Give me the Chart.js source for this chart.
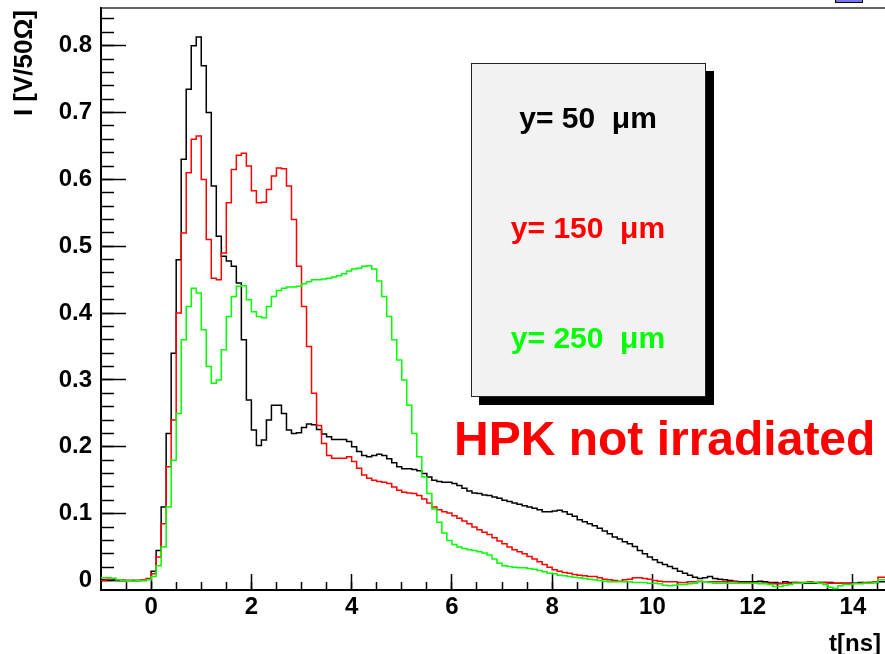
<!DOCTYPE html>
<html><head><meta charset="utf-8">
<script src="https://cdn.jsdelivr.net/npm/chart.js@4.4.1/dist/chart.umd.min.js"></script>
<style>html,body{margin:0;padding:0;background:#fff;overflow:hidden}canvas{display:block}</style>
</head><body>
<canvas id="c" width="885" height="654"></canvas>
<script>
// ---- data (histogram bins, 0.1 ns wide, starting at -1.0 ns) ----
const binStart = -1.0;
const binWidth = 0.1;
const seriesLabels = ['y= 50  \u03bcm', 'y= 150  \u03bcm', 'y= 250  \u03bcm'];
const seriesColors = ['#000000', '#ff0000', '#00ff00'];

const y50 = [
  .001,.001,.001,0,0,0,0,0,0,.002,
  .014,.045,.11,.22,.34,.48,.63,.735,.80,.813,
  .77,.70,.59,.515,.485,.478,.47,.445,.36,.27,
  .225,.202,.21,.24,.262,.262,.25,.225,.22,.221,
  .229,.234,.233,.226,.219,.215,.211,.211,.211,.208,
  .200,.193,.187,.185,.187,.189,.187,.182,.176,.170,
  .167,.167,.166,.164,.160,.155,.150,.148,.147,.147,
  .145,.142,.138,.134,.131,.130,.128,.127,.125,.123,
  .120,.118,.116,.114,.112,.110,.108,.106,.103,.103,
  .104,.105,.103,.099,.096,.091,.088,.085,.082,.078,
  .074,.070,.065,.062,.058,.055,.051,.045,.040,.035,
  .031,.027,.024,.021,.018,.014,.011,.008,.005,.003,
  .004,.006,.003,.002,.001,0,-.001,-.002,-.002,-.002,
  -.002,-.001,-.002,-.003,-.003,-.004,-.002,-.003,-.003,-.004,
  -.004,-.004,-.004,-.003,-.003,-.003,-.004,-.004,-.004,-.004,
  -.004,-.003,-.004,-.003,-.003,-.002,-.002,-.002
];
const y150 = [
  0,.002,.003,.001,0,0,0,0,.001,.003,
  .010,.035,.085,.17,.24,.40,.52,.61,.66,.665,
  .60,.51,.452,.45,.49,.565,.615,.636,.639,.62,
  .583,.565,.566,.585,.605,.617,.616,.59,.54,.47,
  .41,.35,.28,.232,.205,.187,.183,.183,.183,.185,
  .178,.168,.158,.153,.150,.148,.147,.145,.140,.135,
  .132,.131,.130,.127,.122,.116,.110,.106,.103,.101,
  .097,.093,.089,.085,.080,.076,.072,.069,.064,.059,
  .055,.050,.046,.043,.040,.036,.032,.028,.024,.020,
  .016,.014,.012,.011,.009,.008,.007,.006,.006,.004,
  .002,.001,0,-.001,.001,.002,.004,.004,.003,.002,
  0,-.001,-.002,-.002,-.002,-.003,-.003,-.002,-.002,-.001,
  -.002,-.002,-.002,-.002,-.002,-.002,-.002,-.003,-.003,-.003,
  -.004,-.004,-.004,-.004,-.005,-.005,-.004,-.004,-.003,-.003,
  -.003,-.002,-.003,-.003,-.003,-.004,-.004,-.004,-.004,-.004,
  -.004,-.004,-.003,-.003,-.002,.005,.005,.005
];
const y250 = [
  .004,.004,.003,.001,0,0,-.001,0,0,.001,
  .006,.022,.05,.11,.18,.25,.36,.41,.437,.43,
  .375,.32,.295,.30,.345,.395,.425,.44,.441,.42,
  .402,.395,.393,.41,.425,.434,.437,.439,.439,.440,
  .444,.447,.450,.450,.451,.452,.454,.456,.459,.463,
  .466,.467,.470,.471,.466,.448,.425,.395,.36,.33,
  .30,.262,.22,.185,.155,.13,.107,.087,.071,.060,
  .054,.050,.048,.046,.045,.043,.041,.038,.032,.026,
  .022,.021,.020,.019,.019,.018,.017,.015,.013,.011,
  .010,.008,.007,.006,.005,.004,.003,.002,.001,0,
  -.001,-.002,-.002,-.002,-.002,-.002,-.003,-.003,-.003,-.004,
  -.004,-.005,-.007,-.008,-.007,-.006,-.006,-.005,-.004,-.002,
  -.002,-.003,-.004,-.004,-.004,-.004,-.004,-.004,-.004,-.004,
  -.004,-.005,-.005,-.006,-.009,-.009,-.007,-.006,-.004,-.004,
  -.003,-.003,-.003,-.004,-.006,-.010,-.012,-.008,-.006,-.006,
  -.005,-.005,-.004,-.004,-.003,.001,.001,.001
];

const xTickValues = [0, 2, 4, 6, 8, 10, 12, 14];
const xTickLabels = ['0', '2', '4', '6', '8', '10', '12', '14'];
const yTickValues = [0, 0.1, 0.2, 0.3, 0.4, 0.5, 0.6, 0.7, 0.8];
const yTickLabels = ['0', '0.1', '0.2', '0.3', '0.4', '0.5', '0.6', '0.7', '0.8'];
const xMinorStep = 0.5;
const yMinorStep = 0.02;
const xTitle = 't[ns]';
const yTitle = 'I [V/50\u03a9]';
const annotationText = 'HPK not irradiated';

// ---- build ----
const toPoints = arr => arr.map((v, i) => ({ x: +(binStart + i * binWidth).toFixed(2), y: v }));
const FONT = '"Liberation Sans", Arial, Helvetica, sans-serif';
const X_MIN = -1, X_MAX = 14.64, Y_MIN = -0.0142, Y_MAX = 0.8564;
const minorTicks = (lo, hi, step) => {
  const out = [];
  for (let k = Math.ceil(lo / step - 1e-9); k * step <= hi + 1e-9; k++) out.push({ value: +(k * step).toFixed(4) });
  return out;
};

const decor = {
  id: 'decor',
  afterDraw(chart) {
    const ctx = chart.ctx, a = chart.chartArea;
    ctx.save();
    // top frame line
    ctx.fillStyle = '#333';
    ctx.fillRect(a.left, a.top - 0.75, a.right - a.left, 1.5);
    // small blue box at top right (clipped pad edge)
    ctx.fillStyle = '#7777ee'; ctx.fillRect(836, 0, 26, 2);
    ctx.fillStyle = '#000';
    ctx.fillRect(835, 2, 28, 1); ctx.fillRect(835, 0, 1, 3); ctx.fillRect(862, 0, 1, 3);
    // axis titles
    ctx.fillStyle = '#000';
    ctx.font = 'bold 24px ' + FONT;
    ctx.textAlign = 'right'; ctx.textBaseline = 'alphabetic';
    ctx.fillText(xTitle, 881, 651);
    ctx.save();
    ctx.translate(25, 10); ctx.rotate(-Math.PI / 2);
    ctx.font = 'bold 26px ' + FONT;
    ctx.textAlign = 'right'; ctx.textBaseline = 'middle';
    ctx.fillText(yTitle, 0, 0);
    ctx.restore();
    // legend pave with shadow
    const bx = 471, by = 63, bw = 235, bh = 334, sh = 8;
    ctx.fillStyle = '#000';
    ctx.fillRect(bx + sh, by + sh, bw, bh);
    ctx.fillStyle = '#222';
    ctx.fillRect(bx, by, bw, bh);
    ctx.fillStyle = '#f2f2f2';
    ctx.fillRect(bx + 1, by + 1, bw - 2, bh - 2);
    ctx.font = 'bold 30px ' + FONT;
    ctx.textAlign = 'center'; ctx.textBaseline = 'middle';
    const rowsY = [120, 230, 340];
    chart.data.datasets.forEach((ds, i) => {
      ctx.fillStyle = ds.borderColor;
      ctx.fillText(ds.label, 588, rowsY[i]);
    });
    // annotation
    ctx.fillStyle = '#ff0000';
    ctx.font = 'bold 48px ' + FONT;
    ctx.textAlign = 'left'; ctx.textBaseline = 'alphabetic';
    ctx.fillText(annotationText, 454, 455);
    ctx.restore();
  }
};

const mkDs = (arr, i, order) => ({
  label: seriesLabels[i], data: toPoints(arr), borderColor: seriesColors[i],
  borderWidth: 1.5, pointRadius: 0, stepped: 'before', fill: false, order,
  xAxisID: 'x', yAxisID: 'y'
});

const tickFont = { family: FONT, size: 24, weight: 'bold' };

new Chart(document.getElementById('c'), {
  type: 'line',
  data: { datasets: [mkDs(y50, 0, 3), mkDs(y150, 1, 2), mkDs(y250, 2, 1)] },
  options: {
    responsive: false, animation: false, devicePixelRatio: 1,
    layout: { padding: { top: 8, left: 0, right: 0, bottom: 0 } },
    plugins: { legend: { display: false }, tooltip: { enabled: false } },
    scales: {
      x: {
        type: 'linear', position: 'bottom', weight: 1, min: X_MIN, max: X_MAX,
        grid: { display: true, drawOnChartArea: false, drawTicks: true, tickLength: -16, tickWidth: 1.5, tickColor: '#000' },
        border: { display: true, color: '#000', width: 2 },
        afterBuildTicks: s => { s.ticks = xTickValues.map(v => ({ value: v })); },
        afterFit: s => { s.height = 64; s.paddingLeft = 0; s.paddingRight = 0; },
        ticks: { autoSkip: false, maxRotation: 0, padding: 19, color: '#000', font: tickFont,
          callback: (v, i) => xTickLabels[i] }
      },
      xMinor: {
        type: 'linear', position: 'bottom', weight: 0, min: X_MIN, max: X_MAX,
        grid: { display: true, drawOnChartArea: false, drawTicks: true, tickLength: -8, tickWidth: 1.5, tickColor: '#000' },
        border: { display: false },
        afterBuildTicks: s => { s.ticks = minorTicks(-0.5, X_MAX, xMinorStep); },
        afterFit: s => { s.height = 0; s.paddingLeft = 0; s.paddingRight = 0; },
        ticks: { autoSkip: false, maxRotation: 0, color: 'rgba(0,0,0,0)', font: { size: 1 }, callback: () => '' }
      },
      y: {
        type: 'linear', position: 'left', weight: 1, min: Y_MIN, max: Y_MAX,
        grid: { display: true, drawOnChartArea: false, drawTicks: true, tickLength: -25, tickWidth: 1.5, tickColor: '#000' },
        border: { display: true, color: '#000', width: 2 },
        afterBuildTicks: s => { s.ticks = yTickValues.map(v => ({ value: v })); },
        afterFit: s => { s.width = 101; s.paddingTop = 0; s.paddingBottom = 0; },
        ticks: { autoSkip: false, padding: 34, color: '#000', font: tickFont,
          callback: (v, i) => yTickLabels[i] }
      },
      yMinor: {
        type: 'linear', position: 'left', weight: 0, min: Y_MIN, max: Y_MAX,
        grid: { display: true, drawOnChartArea: false, drawTicks: true, tickLength: -13, tickWidth: 1.5, tickColor: '#000' },
        border: { display: false },
        afterBuildTicks: s => { s.ticks = minorTicks(0, Y_MAX, yMinorStep); },
        afterFit: s => { s.width = 0; s.paddingTop = 0; s.paddingBottom = 0; },
        ticks: { autoSkip: false, color: 'rgba(0,0,0,0)', font: { size: 1 }, callback: () => '' }
      }
    }
  },
  plugins: [decor]
});
</script>
</body></html>
